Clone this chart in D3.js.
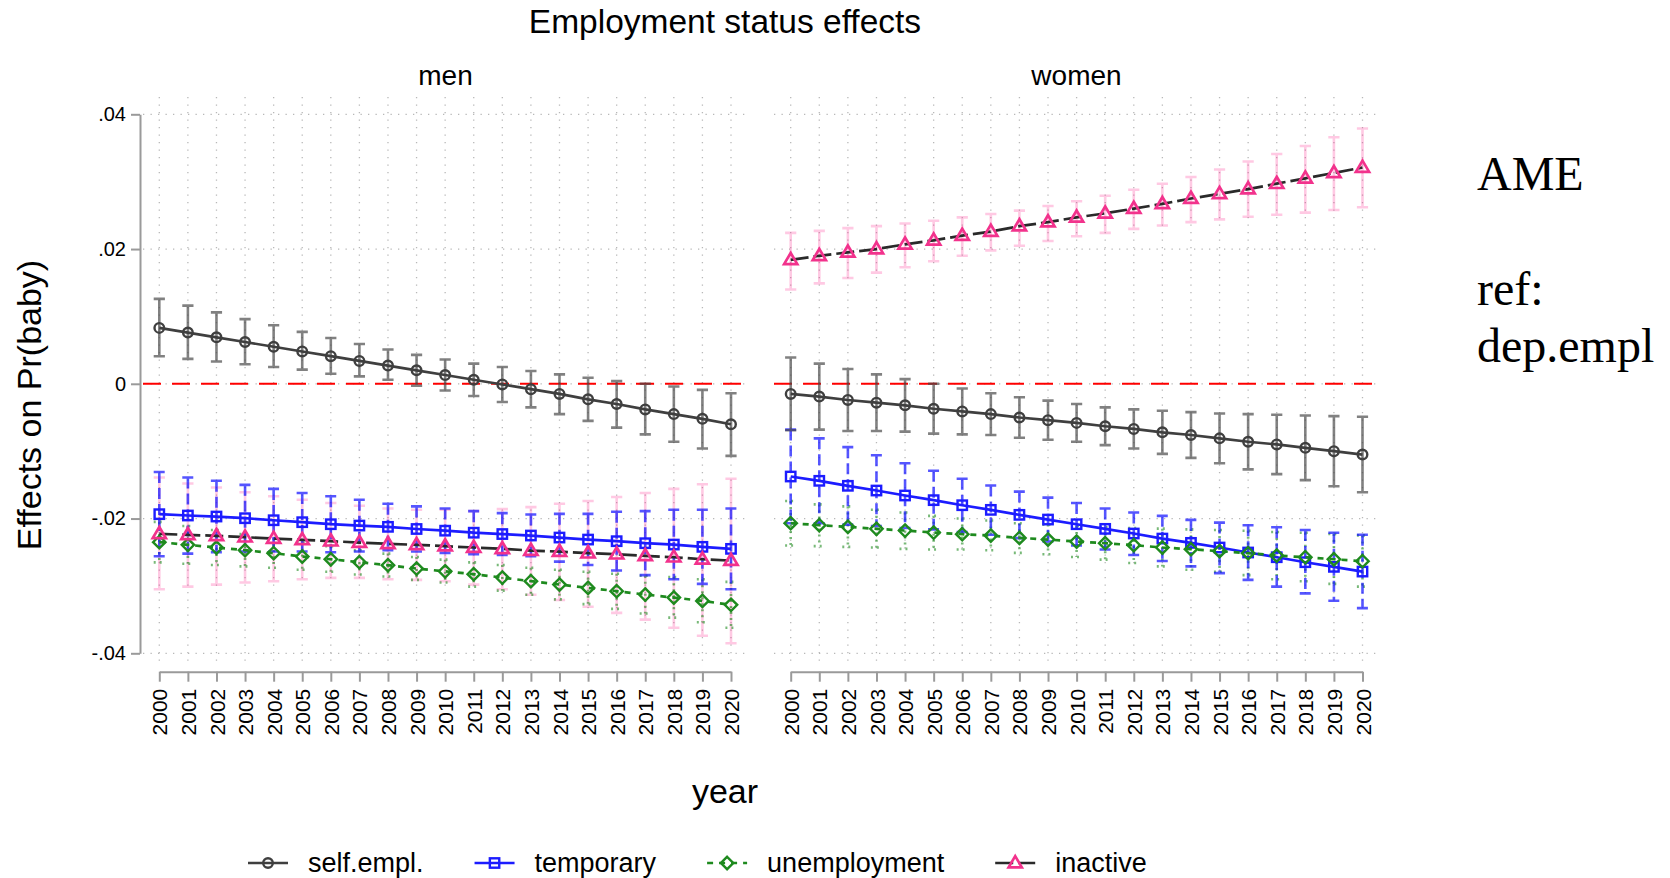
<!DOCTYPE html>
<html>
<head>
<meta charset="utf-8">
<script src="https://cdn.jsdelivr.net/npm/d3@7"></script>
<style>
  body { margin: 0; background: #fff; }
  svg { display: block; }
  text { font-family: "Liberation Sans", Arial, Helvetica, sans-serif; fill: #000; }
</style>
</head>
<body>
<svg id="chart" width="1670" height="878"></svg>
<script>
// ---- data -------------------------------------------------------------
const years = [2000, 2001, 2002, 2003, 2004, 2005, 2006, 2007, 2008, 2009, 2010,
               2011, 2012, 2013, 2014, 2015, 2016, 2017, 2018, 2019, 2020];
const yTicks = [-0.04, -0.02, 0, 0.02, 0.04];
const yTickLabels = ["-.04", "-.02", "0", ".02", ".04"];
const panelNames = ["men", "women"];
const seriesNames = ["self.empl.", "temporary", "unemployment", "inactive"];

// men: average marginal effects with 95% CI
const menSelf   = [0.0083, 0.0076, 0.0069, 0.0062, 0.0055, 0.0048, 0.0041, 0.0034, 0.0027, 0.0020, 0.0013, 0.0006, -0.0001, -0.0008, -0.0015, -0.0023, -0.0030, -0.0038, -0.0045, -0.0052, -0.0060];
const menSelfHi = [0.0126, 0.0116, 0.0106, 0.0096, 0.0087, 0.0077, 0.0068, 0.0059, 0.0051, 0.0043, 0.0036, 0.0030, 0.0025, 0.0019, 0.0014, 0.0009, 0.0004, 0.0000, -0.0004, -0.0009, -0.0014];
const menSelfLo = [0.0041, 0.0037, 0.0033, 0.0029, 0.0025, 0.0021, 0.0015, 0.0011, 0.0006, -0.0003, -0.0010, -0.0018, -0.0027, -0.0035, -0.0045, -0.0055, -0.0065, -0.0075, -0.0086, -0.0096, -0.0107];

const menTemp   = [-0.01935, -0.01955, -0.0197, -0.01995, -0.02025, -0.02054, -0.02084, -0.02104, -0.02123, -0.02155, -0.0218, -0.0221, -0.0223, -0.02252, -0.02282, -0.02312, -0.02336, -0.02366, -0.02386, -0.0242, -0.0245];
const menTempHi = [-0.0131, -0.0139, -0.0144, -0.0150, -0.0156, -0.0162, -0.0167, -0.0172, -0.0178, -0.0182, -0.0185, -0.0189, -0.0192, -0.0194, -0.0193, -0.0193, -0.0190, -0.0189, -0.0187, -0.0187, -0.0185];
const menTempLo = [-0.0256, -0.0252, -0.0250, -0.0249, -0.0249, -0.0249, -0.0250, -0.0249, -0.0247, -0.0249, -0.0251, -0.0253, -0.0254, -0.0256, -0.0264, -0.0269, -0.0277, -0.0284, -0.0290, -0.0297, -0.0305];

const menUnemp   = [-0.0235, -0.0239, -0.0243, -0.0247, -0.02514, -0.02564, -0.02604, -0.02648, -0.02692, -0.02742, -0.02784, -0.02826, -0.02876, -0.0293, -0.0298, -0.03029, -0.03078, -0.03128, -0.03173, -0.03222, -0.03281];
const menUnempHi = [-0.0205, -0.0211, -0.0217, -0.0223, -0.0229, -0.0236, -0.0241, -0.0247, -0.0252, -0.0257, -0.0261, -0.0265, -0.0269, -0.0273, -0.0276, -0.0279, -0.0282, -0.0285, -0.0287, -0.0290, -0.0294];
const menUnempLo = [-0.0265, -0.0267, -0.0269, -0.0271, -0.0273, -0.0276, -0.0279, -0.0283, -0.0286, -0.0291, -0.0295, -0.0301, -0.0307, -0.0313, -0.0320, -0.0327, -0.0334, -0.0341, -0.0347, -0.0354, -0.0362];

const menInact   = [-0.02227, -0.02242, -0.02257, -0.02277, -0.02297, -0.02316, -0.02336, -0.02356, -0.02376, -0.0239, -0.0241, -0.0243, -0.0245, -0.02475, -0.0249, -0.02514, -0.02529, -0.02554, -0.02574, -0.02604, -0.02624];
const menInactHi = [-0.0139, -0.0148, -0.0154, -0.0161, -0.0167, -0.0172, -0.0177, -0.0181, -0.0185, -0.0187, -0.0187, -0.0189, -0.0186, -0.0183, -0.0178, -0.0174, -0.0168, -0.0162, -0.0156, -0.0149, -0.0141];
const menInactLo = [-0.0305, -0.0301, -0.0298, -0.0295, -0.0293, -0.0290, -0.0288, -0.0288, -0.0290, -0.0291, -0.0293, -0.0298, -0.0305, -0.0313, -0.0321, -0.0331, -0.0340, -0.0350, -0.0362, -0.0374, -0.0385];

// women
const womenSelf   = [-0.0015, -0.0019, -0.0024, -0.0028, -0.0032, -0.0037, -0.0041, -0.0045, -0.0050, -0.0054, -0.0058, -0.0063, -0.0067, -0.0072, -0.0076, -0.0081, -0.0086, -0.0090, -0.0095, -0.0100, -0.0105];
const womenSelfHi = [0.0039, 0.0030, 0.0022, 0.0014, 0.0007, 0.0000, -0.0007, -0.0014, -0.0020, -0.0025, -0.0030, -0.0035, -0.0038, -0.0040, -0.0042, -0.0044, -0.0045, -0.0046, -0.0047, -0.0048, -0.0049];
const womenSelfLo = [-0.0069, -0.0068, -0.0070, -0.0070, -0.0071, -0.0074, -0.0075, -0.0076, -0.0080, -0.0083, -0.0086, -0.0091, -0.0096, -0.0104, -0.0110, -0.0118, -0.0127, -0.0134, -0.0143, -0.0152, -0.0161];

const womenTemp   = [-0.01376, -0.0144, -0.01514, -0.01584, -0.01658, -0.01727, -0.01802, -0.01871, -0.01945, -0.02015, -0.02084, -0.02153, -0.02222, -0.02297, -0.02361, -0.0243, -0.02504, -0.02574, -0.02648, -0.02717, -0.02787];
const womenTempHi = [-0.0068, -0.0081, -0.0094, -0.0106, -0.0118, -0.0129, -0.0141, -0.0151, -0.0160, -0.0169, -0.0177, -0.0185, -0.0191, -0.0196, -0.0202, -0.0206, -0.0210, -0.0213, -0.0217, -0.0221, -0.0224];
const womenTempLo = [-0.0207, -0.0207, -0.0209, -0.0211, -0.0214, -0.0216, -0.0220, -0.0224, -0.0229, -0.0234, -0.0240, -0.0246, -0.0254, -0.0263, -0.0271, -0.0281, -0.0291, -0.0301, -0.0311, -0.0322, -0.0333];

const womenUnemp   = [-0.02069, -0.02099, -0.02123, -0.02153, -0.02178, -0.02208, -0.02232, -0.02252, -0.02287, -0.02312, -0.02341, -0.02366, -0.02395, -0.0243, -0.02455, -0.02484, -0.02514, -0.02549, -0.02574, -0.02604, -0.02633];
const womenUnempHi = [-0.0174, -0.0179, -0.0182, -0.0187, -0.0191, -0.0196, -0.0200, -0.0203, -0.0207, -0.0209, -0.0211, -0.0213, -0.0214, -0.0215, -0.0216, -0.0217, -0.0218, -0.0220, -0.0221, -0.0223, -0.0225];
const womenUnempLo = [-0.0240, -0.0241, -0.0242, -0.0243, -0.0245, -0.0246, -0.0246, -0.0247, -0.0251, -0.0253, -0.0257, -0.0261, -0.0266, -0.0271, -0.0276, -0.0279, -0.0284, -0.0290, -0.0293, -0.0297, -0.0301];

const womenInact   = [0.0184, 0.0190, 0.0195, 0.0200, 0.0207, 0.0213, 0.0220, 0.0226, 0.0234, 0.0240, 0.0247, 0.0253, 0.0260, 0.0267, 0.0275, 0.0282, 0.0289, 0.0297, 0.0305, 0.0313, 0.0321];
const womenInactHi = [0.0224, 0.0227, 0.0231, 0.0234, 0.0238, 0.0242, 0.0247, 0.0252, 0.0257, 0.0264, 0.0271, 0.0279, 0.0288, 0.0297, 0.0307, 0.0318, 0.0330, 0.0341, 0.0353, 0.0366, 0.0379];
const womenInactLo = [0.0140, 0.0149, 0.0157, 0.0165, 0.0173, 0.0182, 0.0190, 0.0198, 0.0205, 0.0212, 0.0219, 0.0224, 0.0230, 0.0235, 0.0240, 0.0244, 0.0248, 0.0251, 0.0254, 0.0258, 0.0262];

const noteLines = ["AME", "", "ref:", "dep.empl"];

// ---- series appearance ------------------------------------------------
const styles = [
  { line: "#3f3f3f", dash: null,   marker: "circle",   mk: "#3f3f3f", ci: "rgba(70,70,70,0.68)",  ciDash: null },
  { line: "#1c1cff", dash: null,   marker: "square",   mk: "#1c1cff", ci: "rgba(20,20,255,0.72)", ciDash: "11,5" },
  { line: "#1e8a1e", dash: "6,6",  marker: "diamond",  mk: "#1e8a1e", ci: "rgba(30,138,30,0.6)", ciDash: "2,4" },
  { line: "#2a2a2a", dash: "18,5", marker: "triangle", mk: "#f2328c", ci: "rgba(255,30,140,0.24)", ciDash: null }
];
// interval bars are stacked back to front in this order
const ciOrder = [3, 2, 1, 0];

const panels = [
  { name: panelNames[0], x0: 141, x1: 750, r0: 159.3, r1: 731.0,
    series: [[menSelf, menSelfLo, menSelfHi], [menTemp, menTempLo, menTempHi],
             [menUnemp, menUnempLo, menUnempHi], [menInact, menInactLo, menInactHi]] },
  { name: panelNames[1], x0: 772, x1: 1381, r0: 790.7, r1: 1362.5,
    series: [[womenSelf, womenSelfLo, womenSelfHi], [womenTemp, womenTempLo, womenTempHi],
             [womenUnemp, womenUnempLo, womenUnempHi], [womenInact, womenInactLo, womenInactHi]] }
];

// ---- layout -------------------------------------------------------------
const svg = d3.select("#chart");
const plotTop = 97, plotBottom = 663, axisY = 671.7;
const y = d3.scaleLinear().domain([-0.04, 0.04]).range([653.3, 114.3]);

function drawMarker(g, type, cx, cy, color) {
  const sw = 2.4;
  if (type === "circle") {
    g.append("circle").attr("cx", cx).attr("cy", cy).attr("r", 4.8)
      .attr("fill", "none").attr("stroke", color).attr("stroke-width", sw);
  } else if (type === "square") {
    g.append("rect").attr("x", cx - 4.7).attr("y", cy - 4.7).attr("width", 9.4).attr("height", 9.4)
      .attr("fill", "none").attr("stroke", color).attr("stroke-width", sw);
  } else if (type === "diamond") {
    const r = 6.2;
    g.append("path").attr("d", `M${cx},${cy - r}L${cx + r},${cy}L${cx},${cy + r}L${cx - r},${cy}Z`)
      .attr("fill", "none").attr("stroke", color).attr("stroke-width", sw);
  } else if (type === "triangle") {
    const w = 6.6, hTop = 6.9, hBot = 4.3;
    g.append("path").attr("d", `M${cx},${cy - hTop}L${cx + w},${cy + hBot}L${cx - w},${cy + hBot}Z`)
      .attr("fill", "none").attr("stroke", color).attr("stroke-width", 2.7).attr("stroke-linejoin", "miter");
  }
}

// title
svg.append("text").attr("x", 725).attr("y", 33).attr("text-anchor", "middle")
  .style("font-size", "33.5px").text("Employment status effects");

panels.forEach((p, pi) => {
  const x = d3.scaleLinear().domain([years[0], years[years.length - 1]]).range([p.r0, p.r1]);
  const g = svg.append("g");

  // facet label
  g.append("text").attr("x", (p.x0 + p.x1) / 2).attr("y", 85).attr("text-anchor", "middle")
    .style("font-size", "28px").text(p.name);

  // grid
  const grid = g.append("g").attr("stroke", "#b8b8b8").attr("stroke-width", 1.3)
    .attr("stroke-dasharray", "1.3,6.2");
  grid.selectAll("line.h").data(yTicks).join("line").attr("class", "h")
    .attr("x1", p.x0 + 2).attr("x2", p.x1).attr("y1", d => y(d)).attr("y2", d => y(d));
  grid.selectAll("line.v").data(years).join("line").attr("class", "v")
    .attr("x1", d => x(d)).attr("x2", d => x(d)).attr("y1", plotTop).attr("y2", plotBottom);

  // reference line at zero
  g.append("line").attr("x1", p.x0 + 2).attr("x2", p.x1).attr("y1", y(0)).attr("y2", y(0))
    .attr("stroke", "#ff0000").attr("stroke-width", 2).attr("stroke-dasharray", "18,11");

  // y axis (left panel only)
  if (pi === 0) {
    const ya = g.append("g").attr("transform", `translate(${p.x0 - 1},0)`)
      .call(d3.axisLeft(y).tickValues(yTicks).tickFormat((d, i) => yTickLabels[i])
        .tickSize(9).tickSizeOuter(0).tickPadding(5));
    ya.select(".domain").attr("stroke", "#9a9a9a").attr("stroke-width", 2);
    ya.selectAll(".tick line").attr("stroke", "#9a9a9a").attr("stroke-width", 2);
    ya.selectAll(".tick text").style("font-size", "20px").attr("fill", "#000")
      .style("font-family", "'Liberation Sans', Arial, sans-serif");
  }

  // x axis
  const xa = g.append("g").attr("transform", `translate(0,${axisY})`)
    .call(d3.axisBottom(x).tickValues(years).tickFormat(d3.format("d"))
      .tickSize(10).tickSizeOuter(0).tickPadding(6));
  xa.select(".domain").attr("stroke", "#9a9a9a").attr("stroke-width", 2);
  xa.selectAll(".tick line").attr("stroke", "#9a9a9a").attr("stroke-width", 2);
  xa.selectAll(".tick text").style("font-size", "21px").attr("fill", "#000")
    .style("font-family", "'Liberation Sans', Arial, sans-serif")
    .attr("transform", "rotate(-90)").attr("text-anchor", "end")
    .attr("x", -17).attr("y", 0).attr("dy", "0.36em");

  // confidence intervals
  const capW = 5.6;
  ciOrder.forEach(si => {
    const s = p.series[si];
    const st = styles[si];
    const ci = g.append("g").attr("stroke", st.ci).attr("stroke-width", 2.6).attr("fill", "none");
    years.forEach((yr, i) => {
      const cx = x(yr), lo = y(s[1][i]), hi = y(s[2][i]);
      const path = `M${cx},${hi}L${cx},${lo}M${cx - capW},${hi}L${cx + capW},${hi}M${cx - capW},${lo}L${cx + capW},${lo}`;
      ci.append("path").attr("d", path).attr("stroke-dasharray", st.ciDash);
    });
  });

  // point estimates
  p.series.forEach((s, si) => {
    const st = styles[si];
    const pts = years.map((yr, i) => [x(yr), y(s[0][i])]);
    g.append("path").attr("d", d3.line()(pts)).attr("fill", "none")
      .attr("stroke", st.line).attr("stroke-width", 2.7).attr("stroke-dasharray", st.dash);
    const mg = g.append("g");
    pts.forEach(([cx, cy]) => drawMarker(mg, st.marker, cx, cy, st.mk));
  });
});

// axis titles
svg.append("text").attr("transform", "translate(41,405) rotate(-90)").attr("text-anchor", "middle")
  .style("font-size", "34px").text("Effects on Pr(baby)");
svg.append("text").attr("x", 725).attr("y", 803).attr("text-anchor", "middle")
  .style("font-size", "34px").text("year");

// legend
const legend = svg.append("g");
let lx = 248;
const ly = 863;
seriesNames.forEach((name, i) => {
  const st = styles[i];
  const item = legend.append("g");
  item.append("line").attr("x1", lx).attr("x2", lx + 40).attr("y1", ly).attr("y2", ly)
    .attr("stroke", st.line).attr("stroke-width", 2.7).attr("stroke-dasharray", st.dash);
  drawMarker(item, st.marker, lx + 20, ly, st.mk);
  const t = item.append("text").attr("x", lx + 60).attr("y", ly).attr("dy", "0.35em")
    .style("font-size", "27px").text(name);
  lx += 60 + t.node().getComputedTextLength() + 51;
});

// note on the right margin
const note = svg.append("g");
const noteY = [190, 250, 305, 362];
noteLines.forEach((txt, i) => {
  if (!txt) return;
  note.append("text").attr("x", 1477).attr("y", noteY[i])
    .style("font-family", "'Liberation Serif', 'Times New Roman', serif")
    .style("font-size", "48px").text(txt);
});
</script>
</body>
</html>
